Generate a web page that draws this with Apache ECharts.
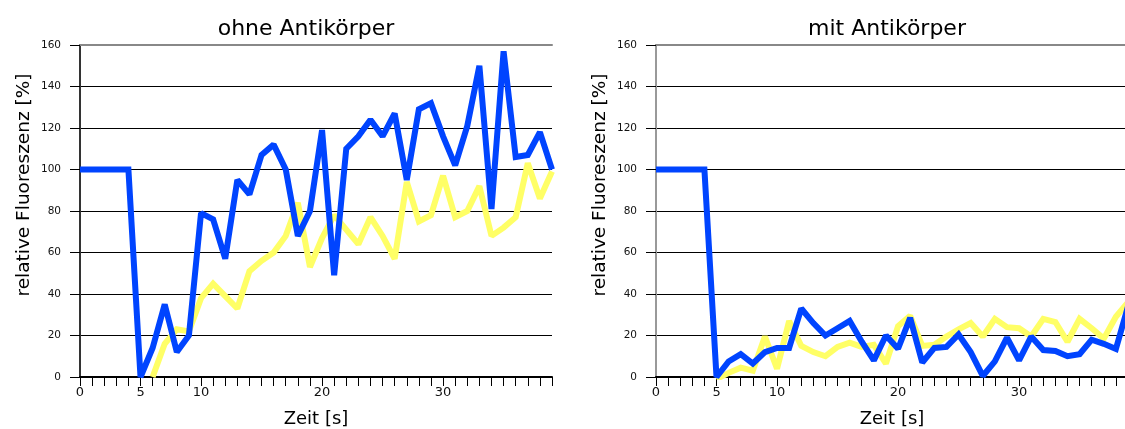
<!DOCTYPE html>
<html>
<head>
<meta charset="utf-8">
<script src="https://cdn.jsdelivr.net/npm/echarts@6/dist/echarts.min.js"></script>
<style>
html,body{margin:0;padding:0;background:#fff;}
#chart{width:1125px;height:429px;}
</style>
</head>
<body>
<div id="chart"></div>
<script>
// ---- data ----
const titles = ['ohne Antikörper', 'mit Antikörper'];
const xName = 'Zeit [s]';
const yName = 'relative Fluoreszenz [%]';
const xTickLabels = [0, 5, 10, 20, 30];
const time = [0,1,2,3,4,5,6,7,8,9,10,11,12,13,14,15,16,17,18,19,20,21,22,23,24,25,26,27,28,29,30,31,32,33,34,35,36,37,38,39];

const ohneBlue = [100,100,100,100,100,0,14,35,12,20,79,76,57,95,88,107,112,100,68,80,119,49,110,116,124,116,127,95,129,132,116,102,121,150,81,157,106,107,118,100];
const ohneYellow = [null,null,null,null,null,null,0,16,23,22,38,45,39,33,51,56,60,68,84,53,67,78,71,64,77,68,57,94,75,78,97,77,80,92,68,72,77,103,86,99];

const mitBlue = [100,100,100,100,100,0,7.5,11,6.5,12,14,14,33,26,20,23.5,27,17,8,20,13.6,28.5,7,14,14.5,20.5,12,0.5,7.5,19,8,19.5,13,12.5,10,11,18,16,13.5,34];
const mitYellow = [null,null,null,null,null,-1,2,4.5,3,19.5,4,27,15,12,10,14.5,16.5,14.5,15.5,6.5,24.5,29.5,15,15.5,19.5,23,26,19.5,28,24,23.5,19.5,28,26.5,17,28,23.5,18.5,29,36];

const panels = [
  {blue: ohneBlue, yellow: ohneYellow},
  {blue: mitBlue, yellow: mitYellow}
];

// ---- styling / layout ----
const BLUE = '#0044ff';
const YELLOW = '#ffff66';
const FONT = 'DejaVu Sans';
const grids = [
  {left: 80, top: 45, width: 472, height: 332, outerBoundsMode: 'none', containLabel: false},
  {left: 656, top: 45, width: 472, height: 332, outerBoundsMode: 'none', containLabel: false}
];
const titleX = [306, 887];
const yAxisColor = ['#333', '#999'];

function pairs(arr) { return time.map((t, i) => [t, arr[i]]); }

const option = {
  animation: false,
  backgroundColor: '#fff',
  textStyle: {fontFamily: FONT},
  title: titles.map((t, i) => ({
    text: t, left: titleX[i], top: 18, textAlign: 'center', padding: 0,
    textStyle: {fontFamily: FONT, fontSize: 22, fontWeight: 'normal', color: '#000'}
  })),
  grid: grids,
  xAxis: [],
  yAxis: [],
  series: []
};

grids.forEach((g, i) => {
  option.xAxis.push({
    type: 'value', gridIndex: i, min: 0, max: 39, interval: 1,
    name: xName, nameLocation: 'middle', nameGap: 33,
    nameTextStyle: {fontFamily: FONT, fontSize: 18, color: '#000'},
    axisLine: {show: true, onZero: false, lineStyle: {color: '#000', width: 2}},
    axisTick: {show: true, inside: false, length: 9, lineStyle: {color: '#000', width: 1}},
    axisLabel: {
      show: true, margin: 9, fontFamily: FONT, fontSize: 13, color: '#111',
      formatter: v => (xTickLabels.indexOf(v) >= 0 ? String(v) : '')
    },
    splitLine: {show: false}
  });
  option.xAxis.push({
    type: 'value', gridIndex: i, position: 'top', min: 0, max: 39,
    axisLine: {show: true, onZero: false, lineStyle: {color: '#888', width: 2}},
    axisTick: {show: false}, axisLabel: {show: false}, splitLine: {show: false}
  });
  option.yAxis.push({
    type: 'value', gridIndex: i, min: 0, max: 160, interval: 20,
    name: yName, nameLocation: 'middle', nameGap: 46,
    nameTextStyle: {fontFamily: FONT, fontSize: 18.5, color: '#000', padding: [0, 0, 0, 52]},
    axisLine: {show: true, onZero: false, lineStyle: {color: yAxisColor[i], width: 2}},
    axisTick: {show: true, length: 10, lineStyle: {color: '#000', width: 1}},
    axisLabel: {margin: 19, fontFamily: FONT, fontSize: 10.5, color: '#111'},
    splitLine: {show: true, lineStyle: {color: '#000', width: 1}}
  });
  option.series.push({
    type: 'line', xAxisIndex: i * 2, yAxisIndex: i, data: pairs(panels[i].yellow),
    symbol: 'none', connectNulls: false, clip: true,
    lineStyle: {color: YELLOW, width: 6, join: 'miter', miterLimit: 1.6}, z: 2
  });
  option.series.push({
    type: 'line', xAxisIndex: i * 2, yAxisIndex: i, data: pairs(panels[i].blue),
    symbol: 'none', clip: true,
    lineStyle: {color: BLUE, width: 6, join: 'miter', miterLimit: 1.6}, z: 3
  });
});

const chart = echarts.init(document.getElementById('chart'), null, {renderer: 'canvas'});
chart.setOption(option);
</script>
</body>
</html>
